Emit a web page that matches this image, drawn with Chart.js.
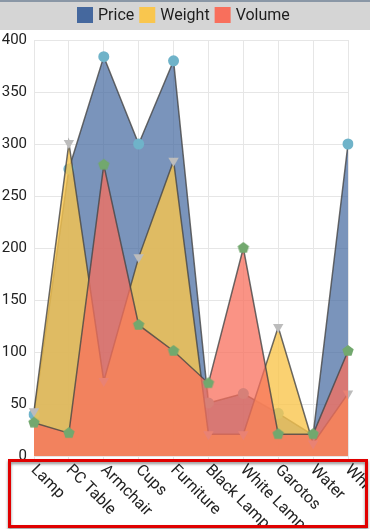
<!DOCTYPE html>
<html>
<head>
<meta charset="utf-8">
<script src="https://cdn.jsdelivr.net/npm/chart.js@4"></script>
<style>
  html, body { margin: 0; padding: 0; background: #fff; }
  canvas { display: block; }
</style>
</head>
<body>
<canvas id="chart" width="370" height="529"></canvas>
<script>
// categories along x (last one is cut off in the picture)
const categories = ['Lamp', 'PC Table', 'Armchair', 'Cups', 'Furniture', 'Black Lamp', 'White Lamp', 'Garotos', 'Water', 'White Table'];

// series values
const priceValues = [40, 276, 384, 300, 380, 51, 60, 41, 20, 300];
const weightValues = [43, 301, 72, 191, 284, 21, 21, 124, 12, 60];
const volumeValues = [32, 22, 280, 126, 101, 70, 200, 21, 21, 101];

// y axis
const yMin = 0;
const yMax = 400;
const yStep = 50;

const FONT = 'Roboto, "Noto Sans", sans-serif';

// pentagon marker for Volume points
function pentagon(r, color) {
  const c = document.createElement('canvas');
  c.width = c.height = r * 2 + 2;
  const g = c.getContext('2d');
  g.fillStyle = color;
  g.beginPath();
  for (let i = 0; i < 5; i++) {
    const a = -Math.PI / 2 + i * 2 * Math.PI / 5;
    const px = r + 1 + r * Math.cos(a);
    const py = r + 1 + r * Math.sin(a);
    if (i === 0) g.moveTo(px, py); else g.lineTo(px, py);
  }
  g.closePath();
  g.fill();
  return c;
}

const solid = { Price: '#45689e', Weight: '#f9c64e', Volume: '#f86f5c' };

// grey band with the legend on it
const bandPlugin = {
  id: 'band',
  beforeDraw(chart) {
    const ctx = chart.ctx;
    ctx.save();
    ctx.fillStyle = '#d5d5d5';
    ctx.fillRect(0, 0, chart.width, 30);
    ctx.fillStyle = '#8a97a6';
    ctx.fillRect(0, 0, chart.width, 2);

    ctx.font = '16px ' + FONT;
    ctx.textBaseline = 'middle';
    ctx.textAlign = 'left';
    const sets = chart.data.datasets;
    const widths = sets.map(d => ctx.measureText(d.label).width);
    let total = 0;
    widths.forEach(w => { total += 16 + 5 + w; });
    total += 5 * (sets.length - 1);
    let x = Math.round(chart.width / 2 - total / 2) - 2;
    sets.forEach((d, i) => {
      ctx.fillStyle = solid[d.label];
      ctx.fillRect(x, 7, 16, 16);
      ctx.fillStyle = '#1e1e1e';
      ctx.fillText(d.label, x + 21, 16);
      x += 16 + 5 + widths[i] + 5;
    });
    ctx.restore();
  }
};

// rotated category labels + red frame around them
const labelPlugin = {
  id: 'xlabels',
  afterDraw(chart) {
    const ctx = chart.ctx;
    const xs = chart.scales.x;
    const top = chart.chartArea.bottom;
    ctx.save();
    ctx.beginPath();
    ctx.rect(10, top + 5, 356, 64);
    ctx.clip();
    ctx.fillStyle = '#222';
    ctx.font = '16px ' + FONT;
    ctx.textAlign = 'left';
    ctx.textBaseline = 'top';
    categories.forEach((lab, i) => {
      const x = xs.getPixelForTick(i);
      ctx.save();
      ctx.translate(x + 5, top + 6);
      ctx.rotate(Math.PI / 4);
      ctx.fillText(lab, 0, 0);
      ctx.restore();
    });
    ctx.restore();

    ctx.save();
    ctx.shadowColor = 'rgba(0,0,0,0.45)';
    ctx.shadowBlur = 3;
    ctx.shadowOffsetY = 2;
    ctx.strokeStyle = '#e00000';
    ctx.lineWidth = 3;
    ctx.strokeRect(9.5, top + 4.5, 357, 66);
    ctx.restore();
  }
};

const line = 'rgba(70,70,70,0.8)';

new Chart(document.getElementById('chart'), {
  type: 'line',
  data: {
    labels: categories,
    datasets: [
      {
        label: 'Price',
        data: priceValues,
        order: 3,
        fill: 'origin',
        backgroundColor: 'rgba(66,102,158,0.7)',
        borderColor: line,
        borderWidth: 1.5,
        tension: 0,
        pointStyle: 'circle',
        pointRadius: 5.5,
        pointBackgroundColor: '#6fb3c9',
        pointBorderWidth: 0
      },
      {
        label: 'Weight',
        data: weightValues,
        order: 2,
        fill: 'origin',
        backgroundColor: 'rgba(249,198,78,0.8)',
        borderColor: line,
        borderWidth: 1.5,
        tension: 0,
        pointStyle: 'triangle',
        rotation: 180,
        pointRadius: 6,
        pointBackgroundColor: '#bcbcbc',
        pointBorderWidth: 0
      },
      {
        label: 'Volume',
        data: volumeValues,
        order: 1,
        fill: 'origin',
        backgroundColor: 'rgba(248,111,92,0.75)',
        borderColor: line,
        borderWidth: 1.5,
        tension: 0,
        pointStyle: pentagon(6, '#72a86e'),
        pointRadius: 6,
        pointBorderWidth: 0
      }
    ]
  },
  options: {
    responsive: false,
    animation: false,
    layout: { padding: { top: 40, right: 22, bottom: 0, left: 0 } },
    plugins: {
      tooltip: { enabled: false },
      legend: { display: false }
    },
    scales: {
      x: {
        type: 'category',
        offset: false,
        grid: { color: '#e6e6e6', tickLength: 6, drawTicks: true },
        border: { display: false },
        ticks: { display: false },
        afterFit(s) { s.height = 73; }
      },
      y: {
        min: yMin,
        max: yMax,
        grid: { color: '#e6e6e6', drawTicks: false },
        border: { display: false },
        ticks: {
          stepSize: yStep,
          padding: 7,
          color: '#222',
          font: { family: FONT, size: 15 }
        },
        afterFit(s) { s.width = 34; }
      }
    }
  },
  plugins: [bandPlugin, labelPlugin]
});
</script>
</body>
</html>
